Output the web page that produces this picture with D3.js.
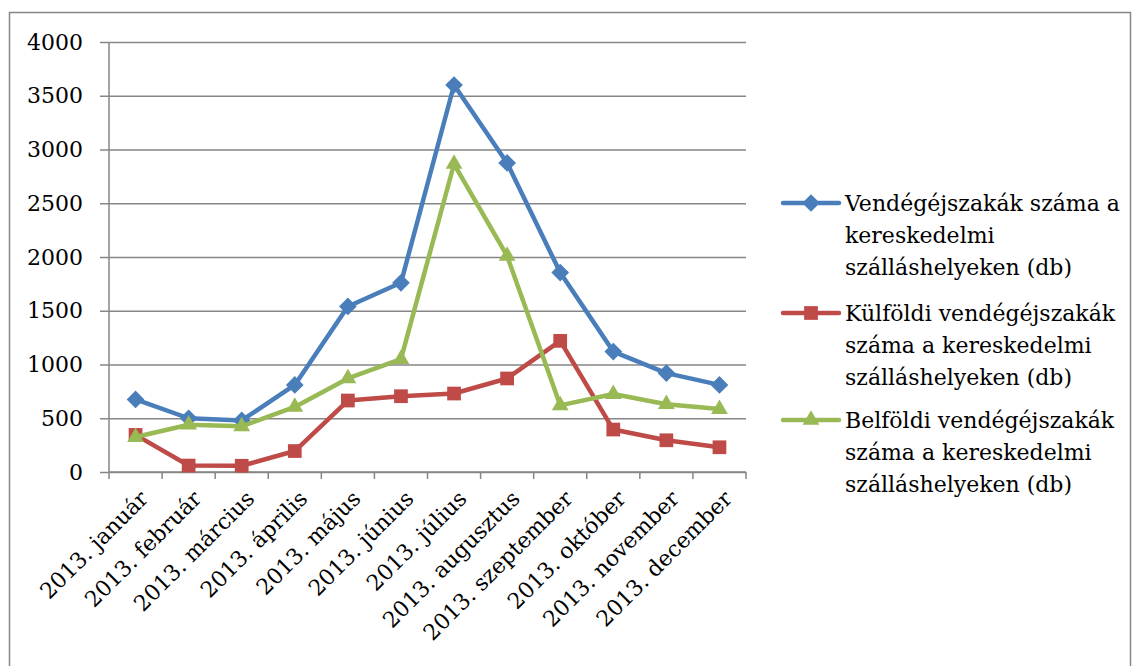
<!DOCTYPE html>
<html>
<head>
<meta charset="utf-8">
<script src="https://cdn.jsdelivr.net/npm/d3@7"></script>
<style>
  body { margin: 0; background: #fff; }
  svg text { font-family: "DejaVu Serif", serif; fill: #000; }
</style>
</head>
<body>
<div id="chart"></div>
<script>
var months = ["2013. január", "2013. február", "2013. március", "2013. április",
    "2013. május", "2013. június", "2013. július", "2013. augusztus",
    "2013. szeptember", "2013. október", "2013. november", "2013. december"];
var osszes = [675, 500, 480, 810, 1540, 1760, 3600, 2875, 1855, 1120, 920, 810];
var kulfoldi = [345, 60, 58, 195, 665, 705, 730, 870, 1220, 395, 295, 230];
var belfoldi = [325, 440, 425, 605, 870, 1050, 2865, 2010, 620, 725, 630, 585];
var yTicks = [0, 500, 1000, 1500, 2000, 2500, 3000, 3500, 4000];
var seriesNames = [
    ["Vendégéjszakák száma a", "kereskedelmi", "szálláshelyeken (db)"],
    ["Külföldi vendégéjszakák", "száma a kereskedelmi", "szálláshelyeken (db)"],
    ["Belföldi vendégéjszakák", "száma a kereskedelmi", "szálláshelyeken (db)"]
];
var colors = ["#4a7ebb", "#be4b48", "#98b954"];
var symbols = [d3.symbolDiamond2, d3.symbolSquare2, d3.symbolTriangle2];

var W = 1138, H = 666;
var margin = {top: 42, left: 109, right: 392, bottom: 194};
var width = W - margin.left - margin.right,
    height = H - margin.top - margin.bottom;

var svg = d3.select("#chart").append("svg")
    .attr("width", W).attr("height", H);

// outer frame
svg.append("rect")
    .attr("x", 9.5).attr("y", 12.5)
    .attr("width", 1121).attr("height", 700)
    .attr("fill", "none").attr("stroke", "#868686").attr("stroke-width", 1.5);

var g = svg.append("g")
    .attr("transform", "translate(" + margin.left + "," + margin.top + ")");

var x = d3.scaleBand().domain(months).range([0, width]);
var y = d3.scaleLinear().domain([0, 4000]).range([height, 0]);

// gridlines + y axis
var yAxis = g.append("g")
    .call(d3.axisLeft(y).tickValues(yTicks).tickFormat(d3.format("d"))
        .tickSize(-width).tickSizeOuter(0).tickPadding(26));
yAxis.select(".domain").remove();
yAxis.selectAll("line").attr("stroke", "#868686").attr("stroke-width", 1.5).attr("x1", -9);
yAxis.selectAll("text").style("font-size", "22px").attr("fill", "#000");

g.append("line")
    .attr("x1", 0).attr("x2", 0).attr("y1", 0).attr("y2", height)
    .attr("stroke", "#868686").attr("stroke-width", 1.5);

// x axis ticks at category borders
var xAxis = g.append("g")
    .attr("transform", "translate(0," + height + ")");
xAxis.append("line")
    .attr("x1", 0).attr("x2", width)
    .attr("stroke", "#868686").attr("stroke-width", 1.5);
xAxis.selectAll(".tk")
    .data(d3.range(months.length + 1))
    .enter().append("line")
    .attr("x1", i => i * x.step()).attr("x2", i => i * x.step())
    .attr("y1", 0).attr("y2", 7)
    .attr("stroke", "#868686").attr("stroke-width", 1.5);
xAxis.selectAll(".lbl")
    .data(months)
    .enter().append("text")
    .attr("text-anchor", "end")
    .style("font-size", "22px")
    .attr("transform", d => "translate(" + (x(d) + x.bandwidth() / 2 + 14) + ",28) rotate(-45)")
    .text(d => d);

var line = d3.line()
    .x((d, i) => x(months[i]) + x.bandwidth() / 2)
    .y(d => y(d));

[osszes, kulfoldi, belfoldi].forEach((data, k) => {
    g.append("path")
        .datum(data)
        .attr("fill", "none")
        .attr("stroke", colors[k])
        .attr("stroke-width", 4.5)
        .attr("stroke-linejoin", "round")
        .attr("d", line);
    g.selectAll(".m" + k)
        .data(data)
        .enter().append("path")
        .attr("d", d3.symbol().type(symbols[k]).size(k == 1 ? 240 : 200))
        .attr("fill", colors[k])
        .attr("transform", (d, i) => "translate(" + (x(months[i]) + x.bandwidth() / 2) + "," + y(d) + ")");
});

// legend
var legendY = [203, 313, 420];
var legend = svg.append("g");
seriesNames.forEach((lines, k) => {
    var lg = legend.append("g").attr("transform", "translate(783," + legendY[k] + ")");
    lg.append("line")
        .attr("x1", 0).attr("x2", 56)
        .attr("stroke", colors[k]).attr("stroke-width", 4.5).attr("stroke-linecap", "round");
    lg.append("path")
        .attr("d", d3.symbol().type(symbols[k]).size(k == 1 ? 240 : 200))
        .attr("transform", "translate(28,0)")
        .attr("fill", colors[k]);
    lines.forEach((t, j) => {
        lg.append("text")
            .attr("x", 62).attr("y", j * 32)
            .attr("dy", "0.35em")
            .style("font-size", "22px")
            .text(t);
    });
});
</script>
</body>
</html>
